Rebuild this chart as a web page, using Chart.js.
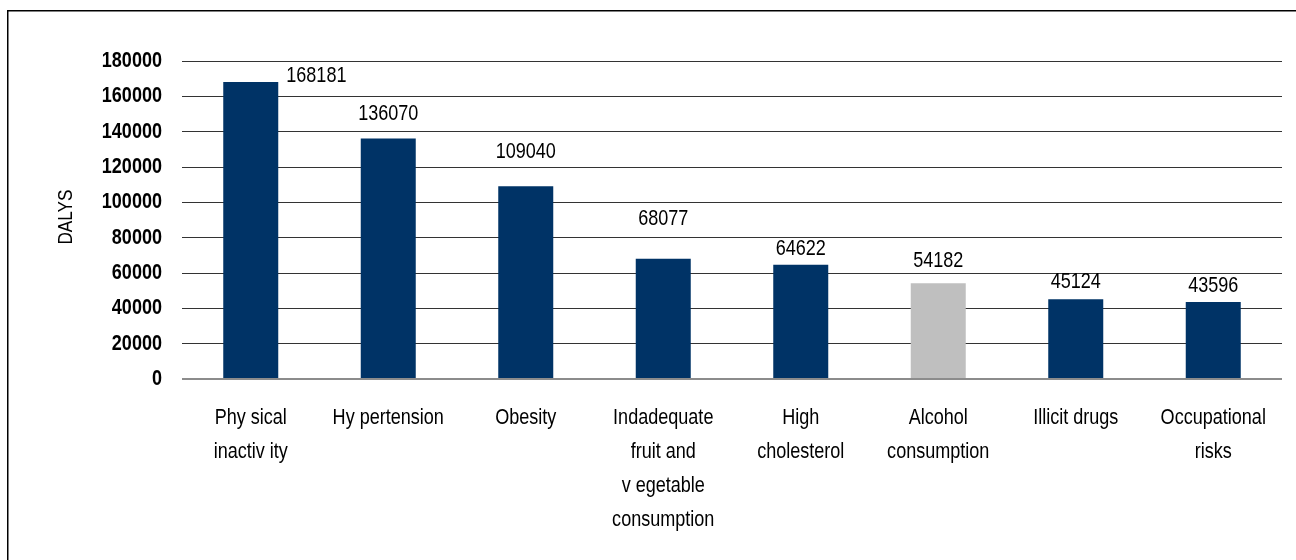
<!DOCTYPE html>
<html>
<head>
<meta charset="utf-8">
<script src="https://cdn.jsdelivr.net/npm/chart.js@4.4.1/dist/chart.umd.min.js"></script>
<style>
  html, body { margin: 0; padding: 0; background: #ffffff; }
  #wrap { position: relative; width: 1296px; height: 560px; }
  canvas { display: block; }
</style>
</head>
<body>
<div id="wrap"><canvas id="c" width="1296" height="560"></canvas></div>
<script>
// Risk factors ranked by burden (DALYs)
const categories = [
  ["Phy sical", "inactiv ity"],
  ["Hy pertension"],
  ["Obesity"],
  ["Indadequate", "fruit and", "v egetable", "consumption"],
  ["High", "cholesterol"],
  ["Alcohol", "consumption"],
  ["Illicit drugs"],
  ["Occupational", "risks"]
];
const dalys = [168181, 136070, 109040, 68077, 64622, 54182, 45124, 43596];
const yTicks = [0, 20000, 40000, 60000, 80000, 100000, 120000, 140000, 160000, 180000];
const yTitle = 'DALYS';

// Bar colours: alcohol is highlighted in grey
const NAVY = '#003366';
const GREY = '#BFBFBF';
const barColors = dalys.map((_, i) => i === 5 ? GREY : NAVY);

// Value-label placement: lift above each bar top (px); first label sits beside its bar
const labelLift = [6, 25, 34, 40, 16, 22, 17.5, 16.5];

// Condensed sans look: regular sans squeezed horizontally
const FONT = "'Liberation Sans', Arial, sans-serif";
const SQUEEZE = 0.82;

function narrowText(ctx, text, x, y, align) {
  ctx.save();
  ctx.translate(x, y);
  ctx.scale(SQUEEZE, 1);
  ctx.textAlign = align;
  ctx.fillText(text, 0, 0);
  ctx.restore();
}

const framePlugin = {
  id: 'frame',
  beforeDraw(chart) {
    const ctx = chart.ctx;
    ctx.save();
    ctx.fillStyle = '#ffffff';
    ctx.fillRect(0, 0, chart.width, chart.height);
    ctx.strokeStyle = '#000000';
    ctx.lineWidth = 1.5;
    ctx.beginPath();
    ctx.moveTo(7.75, chart.height + 5);
    ctx.lineTo(7.75, 10.75);
    ctx.lineTo(chart.width + 5, 10.75);
    ctx.stroke();
    ctx.restore();
  }
};

// Axis tick labels and the y-axis title, drawn in the condensed style
const axisTextPlugin = {
  id: 'axisText',
  afterDraw(chart) {
    const ctx = chart.ctx;
    const xs = chart.scales.x;
    const ys = chart.scales.y;
    const area = chart.chartArea;
    ctx.save();
    ctx.fillStyle = '#000000';
    ctx.textBaseline = 'middle';

    ctx.font = 'bold 22px ' + FONT;
    yTicks.forEach(v => {
      narrowText(ctx, String(v), area.left - 20, ys.getPixelForValue(v), 'right');
    });

    ctx.font = '22px ' + FONT;
    categories.forEach((lines, i) => {
      const cx = xs.getPixelForValue(i);
      lines.forEach((line, k) => {
        narrowText(ctx, line, cx, area.bottom + 38.5 + k * 34.3, 'center');
      });
    });

    ctx.translate(66.5, (area.top + area.bottom) / 2 - 3);
    ctx.rotate(-Math.PI / 2);
    ctx.font = '21px ' + FONT;
    narrowText(ctx, yTitle, 0, 0, 'center');
    ctx.restore();
  }
};

const valueLabelPlugin = {
  id: 'valueLabels',
  afterDatasetsDraw(chart) {
    const ctx = chart.ctx;
    const meta = chart.getDatasetMeta(0);
    ctx.save();
    ctx.fillStyle = '#000000';
    ctx.font = '22px ' + FONT;
    ctx.textBaseline = 'middle';
    meta.data.forEach((bar, i) => {
      const txt = String(dalys[i]);
      const y = bar.y - labelLift[i];
      if (i === 0) {
        narrowText(ctx, txt, bar.x + bar.width / 2 + 8, y, 'left');
      } else {
        narrowText(ctx, txt, bar.x, y, 'center');
      }
    });
    ctx.restore();
  }
};

new Chart(document.getElementById('c'), {
  type: 'bar',
  data: {
    labels: categories,
    datasets: [{
      data: dalys,
      backgroundColor: barColors,
      borderWidth: 0,
      barPercentage: 0.4,
      categoryPercentage: 1.0
    }]
  },
  options: {
    responsive: false,
    animation: false,
    events: [],
    layout: { padding: { left: 0, right: 14, top: 61, bottom: 0 } },
    plugins: {
      legend: { display: false },
      tooltip: { enabled: false },
      title: { display: false }
    },
    scales: {
      x: {
        grid: { display: false, drawTicks: false },
        border: { display: false },
        ticks: { display: false },
        afterFit(scale) { scale.height = 181; }
      },
      y: {
        min: 0,
        max: 180000,
        afterBuildTicks(scale) { scale.ticks = yTicks.map(v => ({ value: v })); },
        grid: {
          drawTicks: false,
          color: ctx => ctx.tick && ctx.tick.value === 0 ? '#8c8c8c' : '#333333',
          lineWidth: ctx => ctx.tick && ctx.tick.value === 0 ? 2 : 1
        },
        border: { display: false },
        ticks: { display: false },
        afterFit(scale) { scale.width = 182; }
      }
    }
  },
  plugins: [framePlugin, axisTextPlugin, valueLabelPlugin]
});
</script>
</body>
</html>
